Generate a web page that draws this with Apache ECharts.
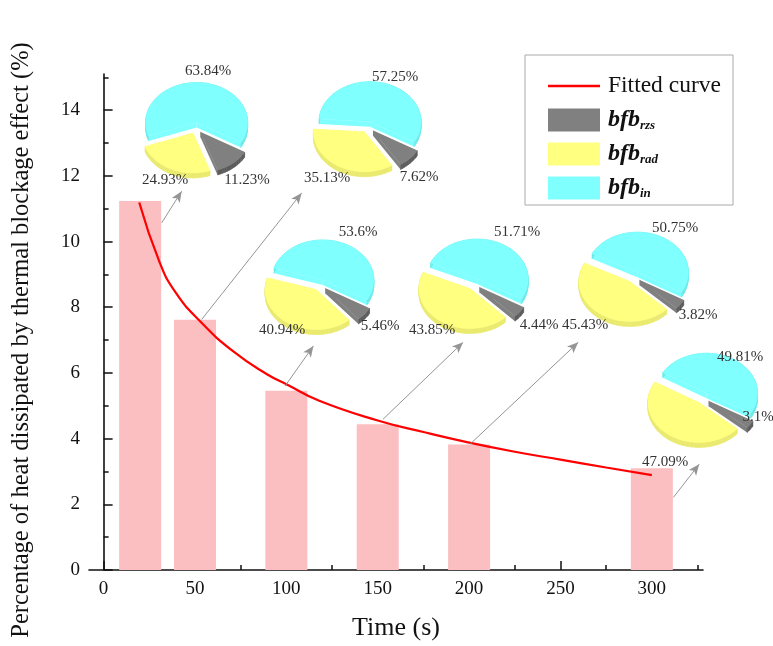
<!DOCTYPE html>
<html>
<head>
<meta charset="utf-8">
<script src="https://cdn.jsdelivr.net/npm/echarts@6/dist/echarts.min.js"></script>
<style>html,body{margin:0;padding:0;background:#fff;}#main{width:773px;height:646px;}</style>
</head>
<body>
<div id="main"></div>
<script>
// ---------- data ----------
const barTimes = [20, 50, 100, 150, 200, 300];
const barValues = [11.23, 7.62, 5.46, 4.44, 3.82, 3.1];
const curveTimes = [19.5, 30.5, 39, 52.8, 70.8, 89.4, 100.3, 118, 150, 175, 200, 225, 250, 275, 300];
const curveValues = [11.19, 9.39, 8.48, 7.57, 6.66, 5.96, 5.65, 5.15, 4.55, 4.2, 3.88, 3.6, 3.36, 3.12, 2.89];
const bfbRzs = [11.23, 7.62, 5.46, 4.44, 3.82, 3.1];
const bfbRad = [24.93, 35.13, 40.94, 43.85, 45.43, 47.09];
const bfbIn = [63.84, 57.25, 53.6, 51.71, 50.75, 49.81];
const xTicks = [0, 50, 100, 150, 200, 250, 300];
const xMinorTicks = [25, 75, 125, 175, 225, 275, 325];
const yTicks = [0, 2, 4, 6, 8, 10, 12, 14];
const yMinorTicks = [1, 3, 5, 7, 9, 11, 13, 15];
// arrows: [fromTime, fromValue, toTime, toValue]
const arrowLinks = [
  [31.8, 10.57, 42.7, 11.53],
  [53.7, 7.63, 108.4, 11.48],
  [99.3, 5.60, 114.8, 6.82],
  [152.9, 4.59, 196.7, 6.93],
  [200.5, 3.83, 259.7, 6.93],
  [311.8, 2.21, 325.9, 3.22]
];

// ---------- layout ----------
const FONT = "'Liberation Serif','Times New Roman',serif";
const pieCenters = [[196,128],[368,127],[320,285],[474,284],[634,277],[703,398]];
// label positions per pie: [rzs, rad, in]
const pieLabelPos = [
  [[247,180],[165,180],[208,71]],
  [[419,177],[327,178],[395,77]],
  [[380,326],[282,330],[358,232]],
  [[539,325],[432,330],[517,232]],
  [[698,315],[585,325],[675,228]],
  [[758,417],[665,462],[740,357]]
];
const RX = 51, RY = 40, DEPTH = 5, EXPLODE = 7, START_DEG = -30;
const compNames = ['bfb_rzs', 'bfb_rad', 'bfb_in'];
const topColors = ['#808080', '#FFFF80', '#80FFFF'];
const sideColors = ['#5c5c5c', '#EAEA6E', '#6CEAEA'];

function makeRenderer(comp) {
  return function (params, api) {
    const i = params.dataIndex;
    const vals = [bfbRzs[i], bfbRad[i], bfbIn[i]];
    const total = vals[0] + vals[1] + vals[2];
    let start = START_DEG;
    for (let k = 0; k < comp; k++) start -= vals[k] / total * 360;
    const end = start - vals[comp] / total * 360;
    const mid = (start + end) / 2 * Math.PI / 180;
    const c = pieCenters[i];
    const cx = c[0] + EXPLODE * Math.cos(mid);
    const cy = c[1] - EXPLODE * Math.sin(mid) * (RY / RX);
    const pts = [[cx, cy]];
    const n = Math.max(4, Math.ceil(Math.abs(end - start) / 3));
    for (let j = 0; j <= n; j++) {
      const t = (start + (end - start) * j / n) * Math.PI / 180;
      pts.push([cx + RX * Math.cos(t), cy - RY * Math.sin(t)]);
    }
    const children = [];
    const down = p => [p[0], p[1] + DEPTH];
    const last = pts.length - 1;
    [[0, 1], [last, 0]].forEach(function (e) {
      const p = pts[e[0]], q = pts[e[1]];
      children.push({type: 'polygon', shape: {points: [p, q, down(q), down(p)]},
        style: {fill: topColors[comp]}});
    });
    for (let j = 1; j < last; j++) {
      const p = pts[j], q = pts[j + 1];
      children.push({type: 'polygon', shape: {points: [p, q, down(q), down(p)]},
        style: {fill: sideColors[comp], stroke: sideColors[comp], lineWidth: 0.6}});
    }
    children.push({type: 'polygon', shape: {points: pts},
      style: {fill: topColors[comp], stroke: topColors[comp], lineWidth: 0.5}});
    const lp = pieLabelPos[i][comp];
    children.push({type: 'text', x: lp[0], y: lp[1], z2: 100, style: {
      text: vals[comp] + '%', font: '15px ' + FONT, fill: '#333', align: 'center', verticalAlign: 'middle'}});
    return {type: 'group', children: children};
  };
}

const pieSeries = [bfbRzs, bfbRad, bfbIn].map((arr, comp) => ({
  type: 'custom', name: compNames[comp], coordinateSystem: 'none',
  itemStyle: {color: topColors[comp]}, z: 5, silent: true,
  renderItem: makeRenderer(comp),
  data: arr.map((v, i) => [i, v])
}));

const chart = echarts.init(document.getElementById('main'), null, {renderer: 'canvas'});
const axisColor = '#111';
chart.setOption({
  animation: false,
  backgroundColor: '#fff',
  grid: {left: 89, right: 70, top: 74, bottom: 75, containLabel: false},
  xAxis: [{
    type: 'value', min: -8, max: 328,
    name: 'Time (s)', nameLocation: 'middle', nameGap: 45,
    nameTextStyle: {fontFamily: FONT, fontSize: 26, color: '#111'},
    axisLine: {show: true, lineStyle: {color: axisColor, width: 1.6}},
    axisTick: {show: true, inside: true, length: 9, customValues: xTicks, lineStyle: {color: axisColor, width: 1.5}},
    axisLabel: {show: true, customValues: xTicks, margin: 10, fontFamily: FONT, fontSize: 19, color: '#111'},
    splitLine: {show: false}
  }, {
    type: 'value', min: -8, max: 328, position: 'bottom', gridIndex: 0,
    axisLine: {show: false},
    axisTick: {show: true, inside: true, length: 5, customValues: xMinorTicks, lineStyle: {color: axisColor, width: 1.5}},
    axisLabel: {show: false}, splitLine: {show: false}
  }],
  yAxis: [{
    type: 'value', min: 0, max: 15.1,
    name: 'Percentage of heat dissipated by thermal blockage effect (%)',
    nameLocation: 'middle', nameGap: 55,
    nameTextStyle: {fontFamily: FONT, fontSize: 24.5, color: '#111', padding: [0, 36, 0, 0]},
    axisLine: {show: true, lineStyle: {color: axisColor, width: 1.6}},
    axisTick: {show: true, inside: true, length: 9, customValues: yTicks, lineStyle: {color: axisColor, width: 1.5}},
    axisLabel: {show: true, customValues: yTicks, margin: 9, fontFamily: FONT, fontSize: 19, color: '#111'},
    splitLine: {show: false}
  }, {
    type: 'value', min: 0, max: 15.1, position: 'left',
    axisLine: {show: false},
    axisTick: {show: true, inside: true, length: 5, customValues: yMinorTicks, lineStyle: {color: axisColor, width: 1.5}},
    axisLabel: {show: false}, splitLine: {show: false}
  }],
  legend: {
    orient: 'vertical', left: 548, top: 74, padding: 0,
    itemWidth: 52, itemHeight: 23, itemGap: 10,
    selectedMode: false,
    data: [
      {name: 'Fitted curve', icon: 'path://M0,0L52,0L52,2.6L0,2.6Z', itemStyle: {color: '#FF0000'}},
      {name: 'bfb_rzs', icon: 'rect'},
      {name: 'bfb_rad', icon: 'rect'},
      {name: 'bfb_in', icon: 'rect'}
    ],
    formatter: function (name) {
      if (name === 'Fitted curve') return '{t|Fitted curve}';
      return '{b|bfb}{s|' + name.split('_')[1] + '}';
    },
    textStyle: {
      fontFamily: FONT, color: '#111',
      rich: {
        t: {fontFamily: FONT, fontSize: 23.5, color: '#111', lineHeight: 24, padding: [0, 0, 0, 3]},
        b: {fontFamily: FONT, fontSize: 24, fontWeight: 'bold', fontStyle: 'italic', color: '#111', lineHeight: 24, padding: [0, 0, 0, 3]},
        s: {fontFamily: FONT, fontSize: 13, fontWeight: 'bold', fontStyle: 'italic', color: '#111', lineHeight: 12, verticalAlign: 'bottom'}
      }
    }
  },
  graphic: [{
    type: 'rect', shape: {x: 525, y: 55, width: 208, height: 150},
    style: {fill: 'transparent', stroke: '#aaa', lineWidth: 1}, z: 0, silent: true
  }],
  series: [{
    type: 'bar', name: 'bars', xAxisIndex: 0, yAxisIndex: 0,
    barWidth: 42,
    itemStyle: {color: '#FBBEC1'},
    data: barTimes.map((t, i) => [t, barValues[i]]),
    z: 2,
    markLine: {
      silent: true, symbol: ['none', 'arrow'], symbolSize: [7, 11],
      label: {show: false},
      lineStyle: {color: '#959595', width: 1, type: 'solid'},
      data: arrowLinks.map(a => [{coord: [a[0], a[1]]}, {coord: [a[2], a[3]]}])
    }
  }, {
    type: 'line', name: 'Fitted curve', xAxisIndex: 0, yAxisIndex: 0,
    smooth: true, symbol: 'none', showSymbol: false,
    lineStyle: {color: '#FF0000', width: 2.2},
    itemStyle: {color: '#FF0000'},
    data: curveTimes.map((t, i) => [t, curveValues[i]]),
    z: 3
  }].concat(pieSeries)
});
</script>
</body>
</html>
